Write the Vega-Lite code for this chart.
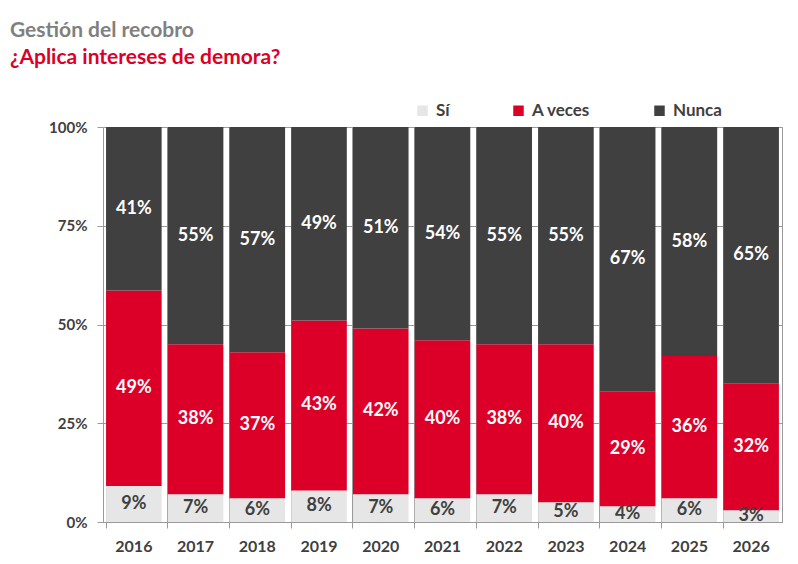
{
  "$schema": "https://vega.github.io/schema/vega-lite/v6.json",
  "description": "Gestión del recobro: ¿Aplica intereses de demora?",
  "width": 679,
  "height": 395,
  "autosize": {"type": "none"},
  "padding": {"left": 103, "top": 127, "right": 16, "bottom": 42},
  "title": {
    "text": "Gestión del recobro",
    "subtitle": "¿Aplica intereses de demora?",
    "anchor": "start",
    "frame": "group",
    "dx": -93,
    "offset": 34,
    "font": "Lato",
    "fontSize": 21,
    "fontWeight": "bold",
    "color": "#808080",
    "subtitleFont": "Lato",
    "subtitleFontSize": 21,
    "subtitleFontWeight": "bold",
    "subtitleColor": "#dc0028",
    "subtitlePadding": 6
  },
  "config": {
    "font": "Lato",
    "view": {"stroke": "#9a9a9a", "strokeWidth": 1}
  },
  "data": {
    "values": [
      {"year": "2016", "cat": "Sí", "value": 9},
      {"year": "2016", "cat": "A veces", "value": 49},
      {"year": "2016", "cat": "Nunca", "value": 41},
      {"year": "2017", "cat": "Sí", "value": 7},
      {"year": "2017", "cat": "A veces", "value": 38},
      {"year": "2017", "cat": "Nunca", "value": 55},
      {"year": "2018", "cat": "Sí", "value": 6},
      {"year": "2018", "cat": "A veces", "value": 37},
      {"year": "2018", "cat": "Nunca", "value": 57},
      {"year": "2019", "cat": "Sí", "value": 8},
      {"year": "2019", "cat": "A veces", "value": 43},
      {"year": "2019", "cat": "Nunca", "value": 49},
      {"year": "2020", "cat": "Sí", "value": 7},
      {"year": "2020", "cat": "A veces", "value": 42},
      {"year": "2020", "cat": "Nunca", "value": 51},
      {"year": "2021", "cat": "Sí", "value": 6},
      {"year": "2021", "cat": "A veces", "value": 40},
      {"year": "2021", "cat": "Nunca", "value": 54},
      {"year": "2022", "cat": "Sí", "value": 7},
      {"year": "2022", "cat": "A veces", "value": 38},
      {"year": "2022", "cat": "Nunca", "value": 55},
      {"year": "2023", "cat": "Sí", "value": 5},
      {"year": "2023", "cat": "A veces", "value": 40},
      {"year": "2023", "cat": "Nunca", "value": 55},
      {"year": "2024", "cat": "Sí", "value": 4},
      {"year": "2024", "cat": "A veces", "value": 29},
      {"year": "2024", "cat": "Nunca", "value": 67},
      {"year": "2025", "cat": "Sí", "value": 6},
      {"year": "2025", "cat": "A veces", "value": 36},
      {"year": "2025", "cat": "Nunca", "value": 58},
      {"year": "2026", "cat": "Sí", "value": 3},
      {"year": "2026", "cat": "A veces", "value": 32},
      {"year": "2026", "cat": "Nunca", "value": 65}
    ]
  },
  "transform": [
    {"calculate": "indexof(['Sí', 'A veces', 'Nunca'], datum.cat)", "as": "stackOrder"}
  ],
  "encoding": {
    "x": {
      "field": "year",
      "type": "nominal",
      "title": null,
      "scale": {"paddingInner": 0.1, "paddingOuter": 0.05},
      "axis": {
        "labelAngle": 0,
        "labelFont": "Lato",
        "labelFontSize": 16,
        "labelFontWeight": "bold",
        "labelColor": "#404040",
        "labelPadding": 10,
        "bandPosition": 0,
        "grid": true,
        "gridColor": "#9a9a9a",
        "ticks": true,
        "tickSize": 6,
        "tickColor": "#9a9a9a",
        "domainColor": "#9a9a9a"
      }
    },
    "y": {
      "field": "value",
      "type": "quantitative",
      "stack": "normalize",
      "title": null,
      "axis": {
        "values": [0, 0.25, 0.5, 0.75, 1],
        "format": ".0%",
        "labelFont": "Lato",
        "labelFontSize": 15,
        "labelFontWeight": "bold",
        "labelColor": "#404040",
        "labelPadding": 10,
        "grid": true,
        "gridColor": "#9a9a9a",
        "tickSize": 6,
        "tickColor": "#9a9a9a",
        "domain": false
      }
    },
    "order": {"field": "stackOrder", "type": "quantitative", "sort": "ascending"}
  },
  "layer": [
    {
      "mark": {"type": "bar"},
      "encoding": {
        "color": {
          "field": "cat",
          "type": "nominal",
          "scale": {
            "domain": ["Sí", "A veces", "Nunca"],
            "range": ["#e6e6e6", "#dc0028", "#404040"]
          },
          "legend": {
            "title": null,
            "orient": "none",
            "direction": "horizontal",
            "legendX": 311,
            "legendY": -25,
            "symbolType": "square",
            "symbolSize": 110,
            "symbolStrokeWidth": 0,
            "labelFont": "Lato",
            "labelFontSize": 17,
            "labelFontWeight": "bold",
            "labelColor": "#404040",
            "labelOffset": 5,
            "columnPadding": 60
          }
        }
      }
    },
    {
      "mark": {
        "type": "text",
        "font": "Lato",
        "fontSize": 18,
        "fontWeight": "bold",
        "baseline": "middle",
        "text": {"expr": "datum.value + '%'"}
      },
      "encoding": {
        "y": {
          "field": "value",
          "type": "quantitative",
          "stack": "normalize",
          "bandPosition": 0.5
        },
        "color": {
          "field": "cat",
          "type": "nominal",
          "scale": {
            "domain": ["Sí", "A veces", "Nunca"],
            "range": ["#404040", "#ffffff", "#ffffff"]
          },
          "legend": null
        }
      }
    }
  ],
  "resolve": {"scale": {"color": "independent"}}
}
